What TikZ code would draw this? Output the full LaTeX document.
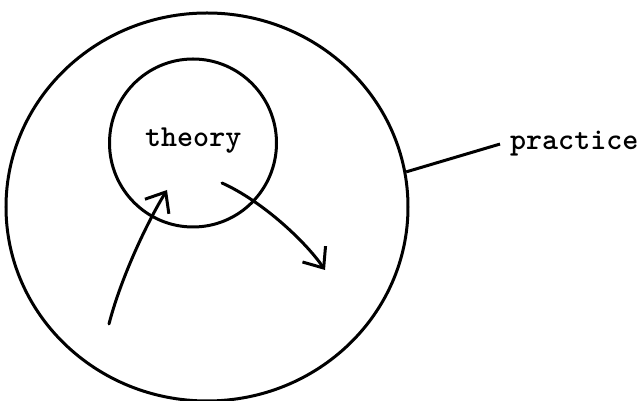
\documentclass[tikz,border=0pt]{standalone}
\usetikzlibrary{arrows.meta, shapes.geometric}

\begin{document}
\begin{tikzpicture}[
  x=1pt, y=1pt,
  font=\ttfamily\bfseries\fontsize{30.5}{36}\selectfont,
  ring/.style={draw, ellipse, line width=3pt, inner sep=0pt},
  word/.style={inner sep=0pt, anchor=base west},
  arr/.style={-{Straight Barb[length=17pt, width=28pt]}, line width=3pt,
              line cap=round}]

  \useasboundingbox (0,0) rectangle (641,401);

  % rings
  \node[ring, minimum width=402pt, minimum height=388pt] (outer) at (207,194) {};
  \node[ring, minimum width=167pt, minimum height=168pt] (inner) at (193,258) {};

  % labels
  \node[word] (theory) at (145,254) {theory};
  \node[word] (practice) at (510,251) {practice};

  % flows
  \coordinate (rise) at (109,77);
  \coordinate (rise tip) at (167,211);
  \coordinate (sink) at (222,218);
  \coordinate (sink tip) at (325,131);
  \draw[arr] (rise) .. controls +(11,43) and +(-22,-36) .. (rise tip);
  \draw[arr] (sink) .. controls +(40,-18) and +(-20,29) .. (sink tip);
  \draw[line width=3pt] (outer.10) -- ([xshift=-10pt]practice.west);
\end{tikzpicture}
\end{document}
